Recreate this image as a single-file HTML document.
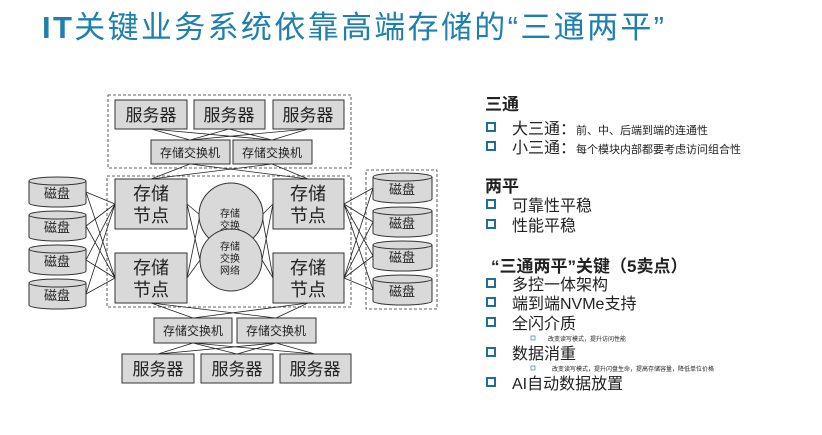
<!DOCTYPE html>
<html><head><meta charset="utf-8"><style>
body{margin:0;background:#fff;width:822px;height:430px;overflow:hidden;font-family:"Liberation Sans","Noto Sans CJK SC",sans-serif;}
svg text{font-family:"Liberation Sans","Noto Sans CJK SC",sans-serif;}
</style></head><body>
<svg width="822" height="430" viewBox="0 0 822 430" xmlns="http://www.w3.org/2000/svg">
<text x="42" y="38" font-size="31" fill="#1f7fae" textLength="622" lengthAdjust="spacing"><tspan font-weight="bold">IT</tspan>关键业务系统依靠高端存储的“三通两平”</text>
<g fill="none" stroke="#333" stroke-width="0.8" stroke-dasharray="3,2">
<rect x="108" y="95" width="243" height="73"/>
<rect x="107" y="176" width="244" height="131"/>
<rect x="366" y="170" width="71" height="139"/>
</g>
<g stroke="#222" stroke-width="0.8" fill="none">
<path d="M151 129L190 140M151 129L272 140M229 129L190 140M229 129L272 140M308 129L190 140M308 129L272 140"/>
<path d="M190 164L151 179M190 164L308 179M272 164L151 179M272 164L308 179"/>
<path d="M151 303L193 318M151 303L276 318M308 303L193 318M308 303L276 318"/>
<path d="M193 343L158 354M193 343L237 354M193 343L315 354M276 343L158 354M276 343L237 354M276 343L315 354"/>
<path d="M86 192L115 204M86 192L115 278M86 226L115 204M86 226L115 278M86 260L115 204M86 260L115 278M86 294L115 204M86 294L115 278"/>
<path d="M373 188L344 204M373 188L344 278M373 222L344 204M373 222L344 278M373 256L344 204M373 256L344 278M373 290L344 204M373 290L344 278"/>
<path d="M187 204L200 215M187 204L200 260M187 278L200 215M187 278L200 260M273 204L262 215M273 204L262 260M273 278L262 215M273 278L262 260"/>
</g>
<g fill="#d9d9d9" stroke="#333" stroke-width="1">
<rect x="115" y="100" width="72" height="29"/><rect x="194" y="100" width="71" height="29"/><rect x="273" y="100" width="71" height="29"/>
<rect x="151" y="140" width="79" height="24"/><rect x="233" y="140" width="79" height="24"/>
<rect x="115" y="179" width="72" height="50"/><rect x="273" y="179" width="71" height="50"/>
<rect x="115" y="253" width="72" height="50"/><rect x="273" y="253" width="71" height="50"/>
<rect x="154" y="318" width="78" height="25"/><rect x="237" y="318" width="79" height="25"/>
<rect x="122" y="354" width="72" height="29"/><rect x="201" y="354" width="72" height="29"/><rect x="280" y="354" width="71" height="29"/>
<circle cx="231" cy="215" r="32"/><circle cx="231" cy="260" r="31"/>
</g>
<g font-size="17" fill="#222" text-anchor="middle">
<text x="151" y="121">服务器</text><text x="229" y="121">服务器</text><text x="308" y="121">服务器</text>
<text x="158" y="375">服务器</text><text x="237" y="375">服务器</text><text x="315" y="375">服务器</text>
<text x="151" y="200" font-size="18">存储</text><text x="151" y="222" font-size="18">节点</text>
<text x="308" y="200" font-size="18">存储</text><text x="308" y="222" font-size="18">节点</text>
<text x="151" y="274" font-size="18">存储</text><text x="151" y="296" font-size="18">节点</text>
<text x="308" y="274" font-size="18">存储</text><text x="308" y="296" font-size="18">节点</text>
</g>
<g font-size="12" fill="#222" text-anchor="middle">
<text x="190" y="157">存储交换机</text><text x="272" y="157">存储交换机</text>
<text x="193" y="335">存储交换机</text><text x="276" y="335">存储交换机</text>
</g>
<g font-size="10" fill="#222" text-anchor="middle">
<text x="230" y="217">存储</text><text x="230" y="229">交换</text>
<text x="230" y="250">存储</text><text x="230" y="262">交换</text><text x="230" y="274">网络</text>
</g>
<g fill="#d9d9d9" stroke="#333" stroke-width="1">
<path d="M29 181v22a28.5 4 0 0 0 57 0v-22"/><ellipse cx="57.5" cy="181" rx="28.5" ry="4"/>
<path d="M29 215v22a28.5 4 0 0 0 57 0v-22"/><ellipse cx="57.5" cy="215" rx="28.5" ry="4"/>
<path d="M29 249v22a28.5 4 0 0 0 57 0v-22"/><ellipse cx="57.5" cy="249" rx="28.5" ry="4"/>
<path d="M29 283v22a28.5 4 0 0 0 57 0v-22"/><ellipse cx="57.5" cy="283" rx="28.5" ry="4"/>
<path d="M373 177v22a29.5 4 0 0 0 59 0v-22"/><ellipse cx="402.5" cy="177" rx="29.5" ry="4"/>
<path d="M373 211v22a29.5 4 0 0 0 59 0v-22"/><ellipse cx="402.5" cy="211" rx="29.5" ry="4"/>
<path d="M373 245v22a29.5 4 0 0 0 59 0v-22"/><ellipse cx="402.5" cy="245" rx="29.5" ry="4"/>
<path d="M373 279v22a29.5 4 0 0 0 59 0v-22"/><ellipse cx="402.5" cy="279" rx="29.5" ry="4"/>
</g>
<g font-size="13" fill="#222" text-anchor="middle">
<text x="57" y="198">磁盘</text><text x="57" y="232">磁盘</text><text x="57" y="266">磁盘</text><text x="57" y="300">磁盘</text>
<text x="402" y="194">磁盘</text><text x="402" y="228">磁盘</text><text x="402" y="262">磁盘</text><text x="402" y="296">磁盘</text>
</g>
<g fill="#222">
<text x="485" y="110" font-size="17" font-weight="bold">三通</text>
<text x="485" y="192" font-size="17" font-weight="bold">两平</text>
<text x="491" y="272" font-size="17" font-weight="bold">“三通两平”关键（5卖点）</text>
<text x="512" y="134" font-size="16">大三通：<tspan font-size="11">前、中、后端到端的连通性</tspan></text>
<text x="512" y="153" font-size="16">小三通：<tspan font-size="11">每个模块内部都要考虑访问组合性</tspan></text>
<text x="512" y="211" font-size="16">可靠性平稳</text>
<text x="512" y="231" font-size="16">性能平稳</text>
<text x="512" y="290" font-size="16">多控一体架构</text>
<text x="512" y="309" font-size="16">端到端NVMe支持</text>
<text x="512" y="329" font-size="16">全闪介质</text>
<text x="548" y="341" font-size="6">改变读写模式，提升访问性能</text>
<text x="512" y="359" font-size="16">数据消重</text>
<text x="552" y="371" font-size="6">改变读写模式，提升闪盘生命，提高存储容量，降低单位价格</text>
<text x="512" y="389" font-size="16">AI自动数据放置</text>
</g>
<g fill="#fff" stroke="#1f6e99" stroke-width="2">
<rect x="487" y="123" width="8" height="8"/><rect x="487" y="142" width="8" height="8"/>
<rect x="487" y="200" width="8" height="8"/><rect x="487" y="220" width="8" height="8"/>
<rect x="487" y="279" width="8" height="8"/><rect x="487" y="298" width="8" height="8"/>
<rect x="487" y="318" width="8" height="8"/><rect x="487" y="348" width="8" height="8"/>
<rect x="487" y="378" width="8" height="8"/>
</g>
<g fill="none" stroke="#1f6e99" stroke-width="0.6">
<rect x="531" y="336" width="4" height="4"/><rect x="531" y="366" width="4" height="4"/>
</g>
</svg>
</body></html>
